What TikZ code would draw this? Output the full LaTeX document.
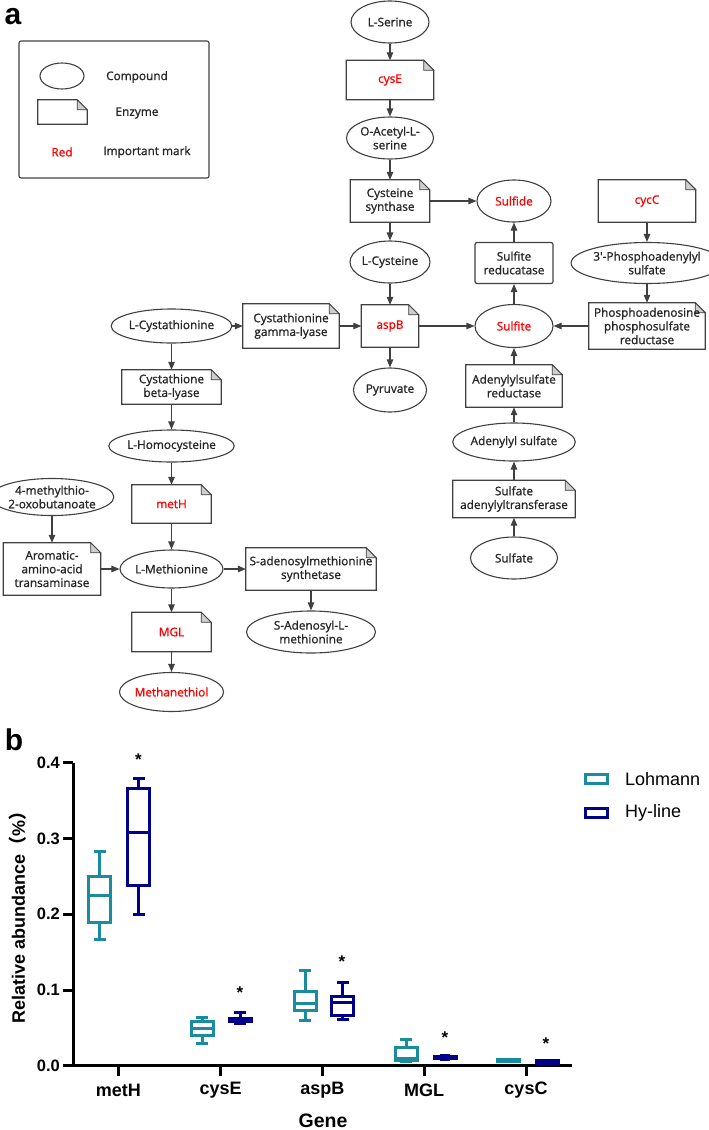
\documentclass[tikz,border=0pt]{standalone}
\usepackage{fontspec}
\setmainfont{Open Sans}
\newfontfamily\dgfont{Open Sans}[FakeBold=1.1]
\newfontfamily\chartfont{Liberation Sans}
\newfontfamily\cjk{Noto Sans CJK SC}
\usetikzlibrary{arrows.meta, shapes.geometric}
\definecolor{lngray}{HTML}{404040}
\definecolor{txtgray}{HTML}{262626}
\definecolor{foldgray}{HTML}{CFCFCF}
\definecolor{markred}{HTML}{FF0000}
\definecolor{lohteal}{HTML}{1B8B9E}
\definecolor{hynavy}{HTML}{000088}

\begin{document}
\begin{tikzpicture}[x=1pt, y=-1pt, >={Triangle[length=8pt, width=6.5pt]},
  cmpd/.style={ellipse, draw=lngray, line width=1.1pt, inner sep=0pt, align=center,
               text=txtgray, font={\dgfont\fontsize{11.8}{13.7}\selectfont}},
  enzbox/.style={rectangle, inner sep=0pt, align=center, text=txtgray,
               font={\dgfont\fontsize{11.8}{13.7}\selectfont},
               append after command={\pgfextra{
                 \draw[lngray, line width=1.2pt]
                   (\tikzlastnode.south west) -- (\tikzlastnode.north west)
                   -- ([xshift=-10pt]\tikzlastnode.north east)
                   -- ([yshift=-10pt]\tikzlastnode.north east)
                   -- (\tikzlastnode.south east) -- cycle;
                 \draw[lngray, line width=0.7pt, fill=foldgray]
                   ([xshift=-10pt]\tikzlastnode.north east)
                   -- ([xshift=-10pt, yshift=-10pt]\tikzlastnode.north east)
                   -- ([yshift=-10pt]\tikzlastnode.north east) -- cycle;}}},
  platebox/.style={rectangle, draw=lngray, line width=1.2pt, rounded corners=2pt,
               inner sep=0pt, align=center, text=txtgray,
               font={\dgfont\fontsize{11.8}{13.7}\selectfont}},
  lbl/.style={text=txtgray, font={\dgfont\fontsize{11.8}{13.7}\selectfont}},
  conn/.style={lngray, line width=1.1pt, ->},
  panel/.style={font={\chartfont\bfseries\fontsize{30}{32}\selectfont}},
  axisln/.style={black, line width=3pt},
  lohbox/.style={lohteal, line width=3pt},
  hybox/.style={hynavy, line width=3pt},
  ticklbl/.style={inner sep=2pt, font={\chartfont\bfseries\fontsize{16.5}{18}\selectfont}},
  catlbl/.style={font={\chartfont\bfseries\fontsize{18}{20}\selectfont}},
  legtxt/.style={inner sep=0pt, anchor=west, font={\chartfont\fontsize{18}{20}\selectfont}},
  sigmark/.style={font={\chartfont\bfseries\fontsize{17}{18}\selectfont}}
]
\useasboundingbox (0,0) rectangle (709,1130);

% Panel letters
\node[panel] (pa) at (13,17) {a};
\node[panel] (pb) at (14,740) {b};

% Legend of the pathway
\draw[lngray, line width=1.1pt, rounded corners=2pt] (19,41) rectangle (209,178);
\node[cmpd, minimum width=44, minimum height=26] (legcmpd) at (62,76) {};
\node[lbl] (legcmpdtxt) at (137,77) {Compound};
\node[enzbox, minimum width=49, minimum height=24] (legenz) at (62.5,112) {};
\node[lbl] (legenztxt) at (137,113) {Enzyme};
\node[lbl, text=markred] (legred) at (62,152) {Red};
\node[lbl] (legredtxt) at (147,152) {Important mark};

% Serine to cysteine column
\node[cmpd, minimum width=78, minimum height=42] (serine) at (390,22) {L-Serine};
\node[enzbox, minimum width=87, minimum height=39, text=markred] (cyse) at (390,80) {cysE};
\node[cmpd, minimum width=87, minimum height=42] (oacser) at (390,138) {O-Acetyl-L-\\serine};
\node[enzbox, minimum width=79, minimum height=42] (cyssyn) at (390,201) {Cysteine\\synthase};
\node[cmpd, minimum width=79, minimum height=42] (lcys) at (390,262) {L-Cysteine};
\node[enzbox, minimum width=57, minimum height=42, text=markred] (aspb) at (390,326) {aspB};
\node[cmpd, minimum width=73, minimum height=44] (pyruv) at (390,390) {Pyruvate};

% Sulfate assimilation column
\node[cmpd, minimum width=74, minimum height=42, text=markred] (sulfide) at (514,201) {Sulfide};
\node[platebox, minimum width=78, minimum height=41] (sulfred) at (514,263) {Sulfite\\reducatase};
\node[cmpd, minimum width=78, minimum height=43, text=markred] (sulfite) at (514,326) {Sulfite};
\node[enzbox, minimum width=96, minimum height=42] (apsred) at (514,386) {Adenylylsulfate\\reductase};
\node[cmpd, minimum width=114, minimum height=38] (adesulf) at (514,442) {Adenylyl sulfate};
\node[enzbox, minimum width=122, minimum height=37] (sat) at (514,499) {Sulfate\\adenylyltransferase};
\node[cmpd, minimum width=87, minimum height=42] (sulfate) at (514,558) {Sulfate};

% PAPS column
\node[enzbox, minimum width=97, minimum height=42, text=markred] (cycc) at (647,201) {cycC};
\node[cmpd, minimum width=119, minimum height=41] (paps) at (647,263) {3\textquotesingle-Phosphoadenylyl\\sulfate};
\node[enzbox, minimum width=116, minimum height=46] (papsred) at (647,326) {Phosphoadenosine\\phosphosulfate\\reductase};

% Methionine column
\node[cmpd, minimum width=99, minimum height=34] (lcysta) at (171.5,326) {L-Cystathionine};
\node[enzbox, minimum width=96, minimum height=44] (cgl) at (291,326) {Cystathionine\\gamma-lyase};
\node[enzbox, minimum width=99, minimum height=34] (cbl) at (171.5,387) {Cystathione\\beta-lyase};
\node[cmpd, minimum width=102, minimum height=32] (lhcys) at (171.5,446) {L-Homocysteine};
\node[enzbox, minimum width=79, minimum height=38, text=markred] (meth) at (171.5,504) {metH};
\node[cmpd, minimum width=86, minimum height=38] (lmet) at (171.5,569) {L-Methionine};
\node[enzbox, minimum width=79, minimum height=39, text=markred] (mgl) at (171.5,632) {MGL};
\node[cmpd, minimum width=87, minimum height=39, text=markred] (mthiol) at (171.5,692) {Methanethiol};

% Side branches of methionine
\node[cmpd, minimum width=100, minimum height=37] (mtob) at (52,497) {4-methylthio-\\2-oxobutanoate};
\node[enzbox, minimum width=97, minimum height=52] (aat) at (52,569) {Aromatic-\\amino-acid\\transaminase};
\node[enzbox, minimum width=130, minimum height=42] (sams) at (311,569) {S-adenosylmethionine\\synthetase};
\node[cmpd, minimum width=129, minimum height=42] (sam) at (311,632) {S-Adenosyl-L-\\methionine};

% Connections
\draw[conn] (serine) -- (cyse);
\draw[conn] (cyse) -- (oacser);
\draw[conn] (oacser) -- (cyssyn);
\draw[conn] (cyssyn) -- (sulfide);
\draw[conn] (cyssyn) -- (lcys);
\draw[conn] (lcys) -- (aspb);
\draw[conn] (aspb) -- (pyruv);
\draw[conn] (aspb) -- (sulfite);
\draw[conn] (cgl) -- (aspb);
\draw[conn] (sulfite) -- (sulfred);
\draw[conn] (sulfred) -- (sulfide);
\draw[conn] (apsred) -- (sulfite);
\draw[conn] (adesulf) -- (apsred);
\draw[conn] (sat) -- (adesulf);
\draw[conn] (sulfate) -- (sat);
\draw[conn] (cycc) -- (paps);
\draw[conn] (paps) -- (papsred);
\draw[conn] (papsred) -- (sulfite);
\draw[conn] (lcysta) -- (cgl);
\draw[conn] (lcysta) -- (cbl);
\draw[conn] (cbl) -- (lhcys);
\draw[conn] (lhcys) -- (meth);
\draw[conn] (meth) -- (lmet);
\draw[conn] (mtob) -- (aat);
\draw[conn] (aat) -- (lmet);
\draw[conn] (lmet) -- (sams);
\draw[conn] (sams) -- (sam);
\draw[conn] (lmet) -- (mgl);
\draw[conn] (mgl) -- (mthiol);

% Box plot: axes
\draw[axisln, line join=miter] (73.3,762.9) -- (73.3,1065.7) -- (572,1065.7);
\draw[axisln] (73.3,762.9) -- (63.3,762.9) node[left, ticklbl] (t4) {0.4};
\draw[axisln] (73.3,838.6) -- (63.3,838.6) node[left, ticklbl] (t3) {0.3};
\draw[axisln] (73.3,914.3) -- (63.3,914.3) node[left, ticklbl] (t2) {0.2};
\draw[axisln] (73.3,990.0) -- (63.3,990.0) node[left, ticklbl] (t1) {0.1};
\draw[axisln] (73.3,1065.7) -- (63.3,1065.7) node[left, ticklbl] (t0) {0.0};
\draw[axisln] (118.3,1065.7) -- (118.3,1076);
\draw[axisln] (220.7,1065.7) -- (220.7,1076);
\draw[axisln] (322.3,1065.7) -- (322.3,1076);
\draw[axisln] (424,1065.7) -- (424,1076);
\draw[axisln] (526,1065.7) -- (526,1076);
\node[catlbl] (gmeth) at (118.3,1090) {metH};
\node[catlbl] (gcyse) at (220.7,1090) {cysE};
\node[catlbl] (gaspb) at (322.3,1090) {aspB};
\node[catlbl] (gmgl) at (424,1090) {MGL};
\node[catlbl] (gcysc) at (526,1090) {cysC};
\node[catlbl, font={\chartfont\bfseries\fontsize{19.5}{21}\selectfont}] (xtitle) at (323,1121) {Gene};
\node[catlbl, rotate=90] (ytitle) at (18,913) {Relative abundance{\cjk （}\%{\cjk ）}};

% metH
\draw[lohbox] (93.5,851.5) -- (105.5,851.5) (99.5,851.5) -- (99.5,876.0) (99.5,922.6) -- (99.5,939.3) (93.5,939.3) -- (105.5,939.3);
\draw[lohbox] (88.5,876.0) rectangle (110.5,922.6) (88.5,895.0) -- (110.5,895.0);
\draw[hybox] (132.7,778.0) -- (144.7,778.0) (138.7,778.0) -- (138.7,788.6) (138.7,885.5) -- (138.7,914.3) (132.7,914.3) -- (144.7,914.3);
\draw[hybox] (127.7,788.6) rectangle (149.7,885.5) (127.7,832.5) -- (149.7,832.5);
% cysE
\draw[lohbox] (196,1017.3) -- (208,1017.3) (202,1017.3) -- (202,1021.8) (202,1035.0) -- (202,1043.0) (196,1043.0) -- (208,1043.0);
\draw[lohbox] (191,1021.8) rectangle (213,1035.0) (191,1028.4) -- (213,1028.4);
\draw[hybox] (234,1012.7) -- (246,1012.7) (240,1012.7) -- (240,1018.2) (240,1021.8) -- (240,1023.3) (234,1023.3) -- (246,1023.3);
\draw[hybox] (229,1018.2) rectangle (251,1021.8) (229,1020) -- (251,1020);
% aspB
\draw[lohbox] (299,970.7) -- (311,970.7) (305,970.7) -- (305,991.5) (305,1010.1) -- (305,1020.3) (299,1020.3) -- (311,1020.3);
\draw[lohbox] (294,991.5) rectangle (316,1010.1) (294,1003.6) -- (316,1003.6);
\draw[hybox] (336.7,982.4) -- (348.7,982.4) (342.7,982.4) -- (342.7,996.1) (342.7,1015.0) -- (342.7,1019.5) (336.7,1019.5) -- (348.7,1019.5);
\draw[hybox] (331.7,996.1) rectangle (353.7,1015.0) (331.7,1002.9) -- (353.7,1002.9);
% MGL
\draw[lohbox] (400,1039.2) -- (412,1039.2) (406,1039.2) -- (406,1047.5) (406,1060.5) -- (406,1061.5) (400,1061.5) -- (412,1061.5);
\draw[lohbox] (395,1047.5) rectangle (417,1060.5) (395,1058.0) -- (417,1058.0);
\draw[hybox] (440,1055.3) -- (450,1055.3) (445,1055.3) -- (445,1056.5) (445,1058.7) -- (445,1059.5) (440,1059.5) -- (450,1059.5);
\draw[hybox] (434,1056.5) rectangle (456,1058.7) (434,1057.6) -- (456,1057.6);
% cysC
\draw[lohbox] (497,1059.2) rectangle (519,1061.2) (497,1060.2) -- (519,1060.2);
\draw[hybox] (536,1060.8) rectangle (558,1063.8) (536,1062.3) -- (558,1062.3);

% Significance marks
\node[sigmark] (s1) at (138.5,760) {*};
\node[sigmark] (s2) at (240,993) {*};
\node[sigmark] (s3) at (342,962) {*};
\node[sigmark] (s4) at (445,1038) {*};
\node[sigmark] (s5) at (546,1044) {*};

% Legend of the box plot
\draw[lohbox] (585.5,774.2) rectangle (607.5,783.5);
\node[legtxt] (lohtxt) at (625,779.2) {Lohmann};
\draw[hybox] (585.5,808.5) rectangle (607.5,817.5);
\node[legtxt] (hytxt) at (625,813.3) {Hy-line};

\end{tikzpicture}
\end{document}
